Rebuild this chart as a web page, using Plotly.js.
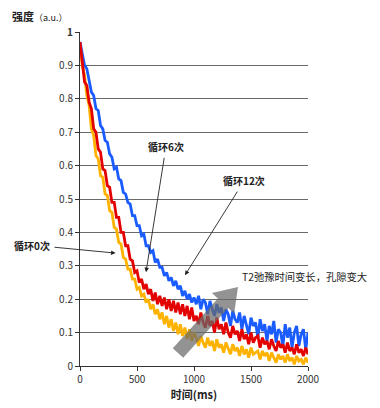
<!DOCTYPE html>
<html>
<head>
<meta charset="utf-8">
<script src="https://cdn.plot.ly/plotly-3.0.1.min.js"></script>
<style>html,body{margin:0;padding:0;background:#fff;}#chart{width:380px;height:408px;}</style>
</head>
<body>
<div id="chart"></div>
<script>
// Time axis (ms)
var timeMs = [0,20,40,60,80,100,120,140,160,180,200,220,240,260,280,300,320,340,360,380,
  400,420,440,460,480,500,520,540,560,580,600,620,640,660,680,700,720,740,760,780,
  800,820,840,860,880,900,920,940,960,980,1000,1020,1040,1060,1080,1100,1120,1140,1160,1180,
  1200,1220,1240,1260,1280,1300,1320,1340,1360,1380,1400,1420,1440,1460,1480,1500,1520,1540,1560,1580,
  1600,1620,1640,1660,1680,1700,1720,1740,1760,1780,1800,1820,1840,1860,1880,1900,1920,1940,1960,1980,2000];

// 循环12次 (blue)
var cycle12 = [0.97,0.94,0.90,0.89,0.86,0.82,0.81,0.77,0.765,0.72,0.71,0.675,0.67,0.635,0.625,0.59,0.595,0.56,0.555,0.52,
  0.515,0.49,0.485,0.45,0.45,0.42,0.42,0.39,0.395,0.36,0.36,0.34,0.345,0.31,0.32,0.295,0.295,0.27,0.28,0.255,
  0.265,0.24,0.255,0.23,0.24,0.21,0.225,0.20,0.215,0.19,0.205,
  0.185,0.21,0.17,0.2,0.19,0.155,0.195,0.17,0.15,0.185,
  0.16,0.175,0.135,0.17,0.155,0.12,0.165,0.14,0.13,0.16,
  0.11,0.15,0.125,0.095,0.145,0.12,0.13,0.085,0.14,0.105,
  0.125,0.075,0.12,0.095,0.135,0.07,0.11,0.1,0.06,0.125,
  0.085,0.115,0.055,0.1,0.12,0.06,0.095,0.11,0.05,0.1];

// 循环6次 (red)
var cycle6 = [0.97,0.91,0.85,0.84,0.79,0.77,0.71,0.70,0.65,0.64,0.59,0.585,0.54,0.535,0.49,0.49,0.445,0.445,0.40,0.40,
  0.36,0.36,0.32,0.315,0.28,0.285,0.25,0.26,0.23,0.245,0.215,0.23,0.195,0.22,0.185,0.21,0.18,0.205,0.17,0.20,
  0.165,0.195,0.16,0.19,0.155,0.185,0.15,0.18,0.14,0.175,0.135,
  0.15,0.125,0.16,0.13,0.115,0.15,0.12,0.135,0.1,0.145,
  0.11,0.125,0.095,0.13,0.1,0.085,0.12,0.095,0.105,0.075,
  0.11,0.08,0.095,0.065,0.1,0.07,0.085,0.09,0.055,0.085,
  0.065,0.075,0.05,0.08,0.06,0.045,0.075,0.055,0.065,0.04,
  0.07,0.045,0.055,0.035,0.065,0.04,0.05,0.03,0.055,0.035];

// 循环0次 (orange)
var cycle0 = [0.96,0.90,0.87,0.81,0.78,0.71,0.69,0.63,0.62,0.57,0.565,0.515,0.51,0.465,0.46,0.415,0.41,0.37,0.365,0.325,
  0.32,0.29,0.29,0.26,0.26,0.23,0.235,0.21,0.215,0.19,0.20,0.17,0.185,0.155,0.17,0.14,0.16,0.125,0.15,0.115,
  0.14,0.105,0.13,0.095,0.125,0.09,0.115,0.08,0.11,0.075,0.10,
  0.085,0.06,0.09,0.07,0.055,0.085,0.06,0.075,0.045,0.08,
  0.055,0.065,0.04,0.07,0.05,0.035,0.065,0.045,0.055,0.03,
  0.06,0.035,0.05,0.025,0.055,0.035,0.04,0.045,0.02,0.045,
  0.03,0.04,0.015,0.04,0.025,0.01,0.035,0.02,0.03,0.01,
  0.035,0.015,0.025,0.005,0.03,0.015,0.02,0.005,0.025,0.01];

var yTickVals = [0,0.1,0.2,0.3,0.4,0.5,0.6,0.7,0.8,0.9,1];
var yTickText = ['0','0.1','0.2','0.3','0.4','0.5','0.6','0.7','0.8','0.9','<b>1</b>'];
var xTickVals = [0,500,1000,1500,2000];

var seriesNames = ['循环12次','循环0次','循环6次'];
var seriesColors = ['#1a5cff','#ffb300','#e30000'];
var seriesData = [cycle12, cycle0, cycle6];

var traces = seriesData.map(function(d,i){
  return {x: timeMs, y: d, type:'scatter', mode:'lines', name: seriesNames[i],
          line:{color: seriesColors[i], width:2.8}, hoverinfo:'skip'};
});

var fontCJK = '"Noto Sans CJK SC", "Noto Sans", sans-serif';

var layout = {
  width:380, height:408,
  margin:{l:80, r:72, t:32, b:42},
  paper_bgcolor:'#fff', plot_bgcolor:'#fff',
  showlegend:false,
  font:{family: fontCJK, size:10, color:'#333'},
  xaxis:{range:[0,2000], tickvals:xTickVals, ticks:'outside', ticklen:4, tickcolor:'#333',
         showgrid:false, zeroline:false, showline:true, linecolor:'#333', linewidth:1,
         tickfont:{size:10, color:'#333', family: fontCJK},
         title:{text:'<b>时间(ms)</b>', font:{size:11, color:'#222', family: fontCJK}, standoff:4}},
  yaxis:{range:[0,1], tickvals:yTickVals, ticktext:yTickText, ticks:'outside', ticklen:4, tickcolor:'#333',
         showgrid:true, gridcolor:'#6a6a6a', gridwidth:1, zeroline:false, showline:true, linecolor:'#333', linewidth:1,
         tickfont:{size:10, color:'#333', family: fontCJK}},
  shapes:[{
    type:'path', xref:'x', yref:'y', layer:'above',
    path:'M814,0.0533 L1209,0.2021 L1157,0.2183 L1386,0.2365 L1352,0.1572 L1300,0.1734 L905,0.0246 Z',
    fillcolor:'rgba(105,105,105,0.72)', line:{width:0}
  }],
  annotations:[
    {xref:'paper', yref:'paper', x:-0.307, y:1.048, xanchor:'left', yanchor:'middle', showarrow:false,
     text:'<b>强度</b><span style="font-size:9px">（a.u.）</span>', font:{size:11, color:'#222', family: fontCJK}},
    {xref:'x', yref:'y', x:312, y:0.338, axref:'x', ayref:'y', ax:-421, ay:0.362,
     text:'<b>循环0次</b>', showarrow:true, arrowhead:2, arrowsize:1, arrowwidth:0.9, arrowcolor:'#222',
     standoff:0, startstandoff:3, font:{size:10, color:'#222', family: fontCJK}},
    {xref:'x', yref:'y', x:579, y:0.281, axref:'x', ayref:'y', ax:754, ay:0.656,
     text:'<b>循环6次</b>', showarrow:true, arrowhead:2, arrowsize:1, arrowwidth:0.9, arrowcolor:'#222',
     standoff:0, startstandoff:2, font:{size:10, color:'#222', family: fontCJK}},
    {xref:'x', yref:'y', x:921, y:0.272, axref:'x', ayref:'y', ax:1439, ay:0.554,
     text:'<b>循环12次</b>', showarrow:true, arrowhead:2, arrowsize:1, arrowwidth:0.9, arrowcolor:'#222',
     standoff:0, startstandoff:2, font:{size:10, color:'#222', family: fontCJK}},
    {xref:'x', yref:'y', x:1404, y:0.269, xanchor:'left', yanchor:'middle', showarrow:false,
     text:'T2弛豫时间变长，孔隙变大', font:{size:10.3, color:'#222', family: fontCJK}}
  ]
};

Plotly.newPlot('chart', traces, layout, {displayModeBar:false, staticPlot:true});
</script>
</body>
</html>
